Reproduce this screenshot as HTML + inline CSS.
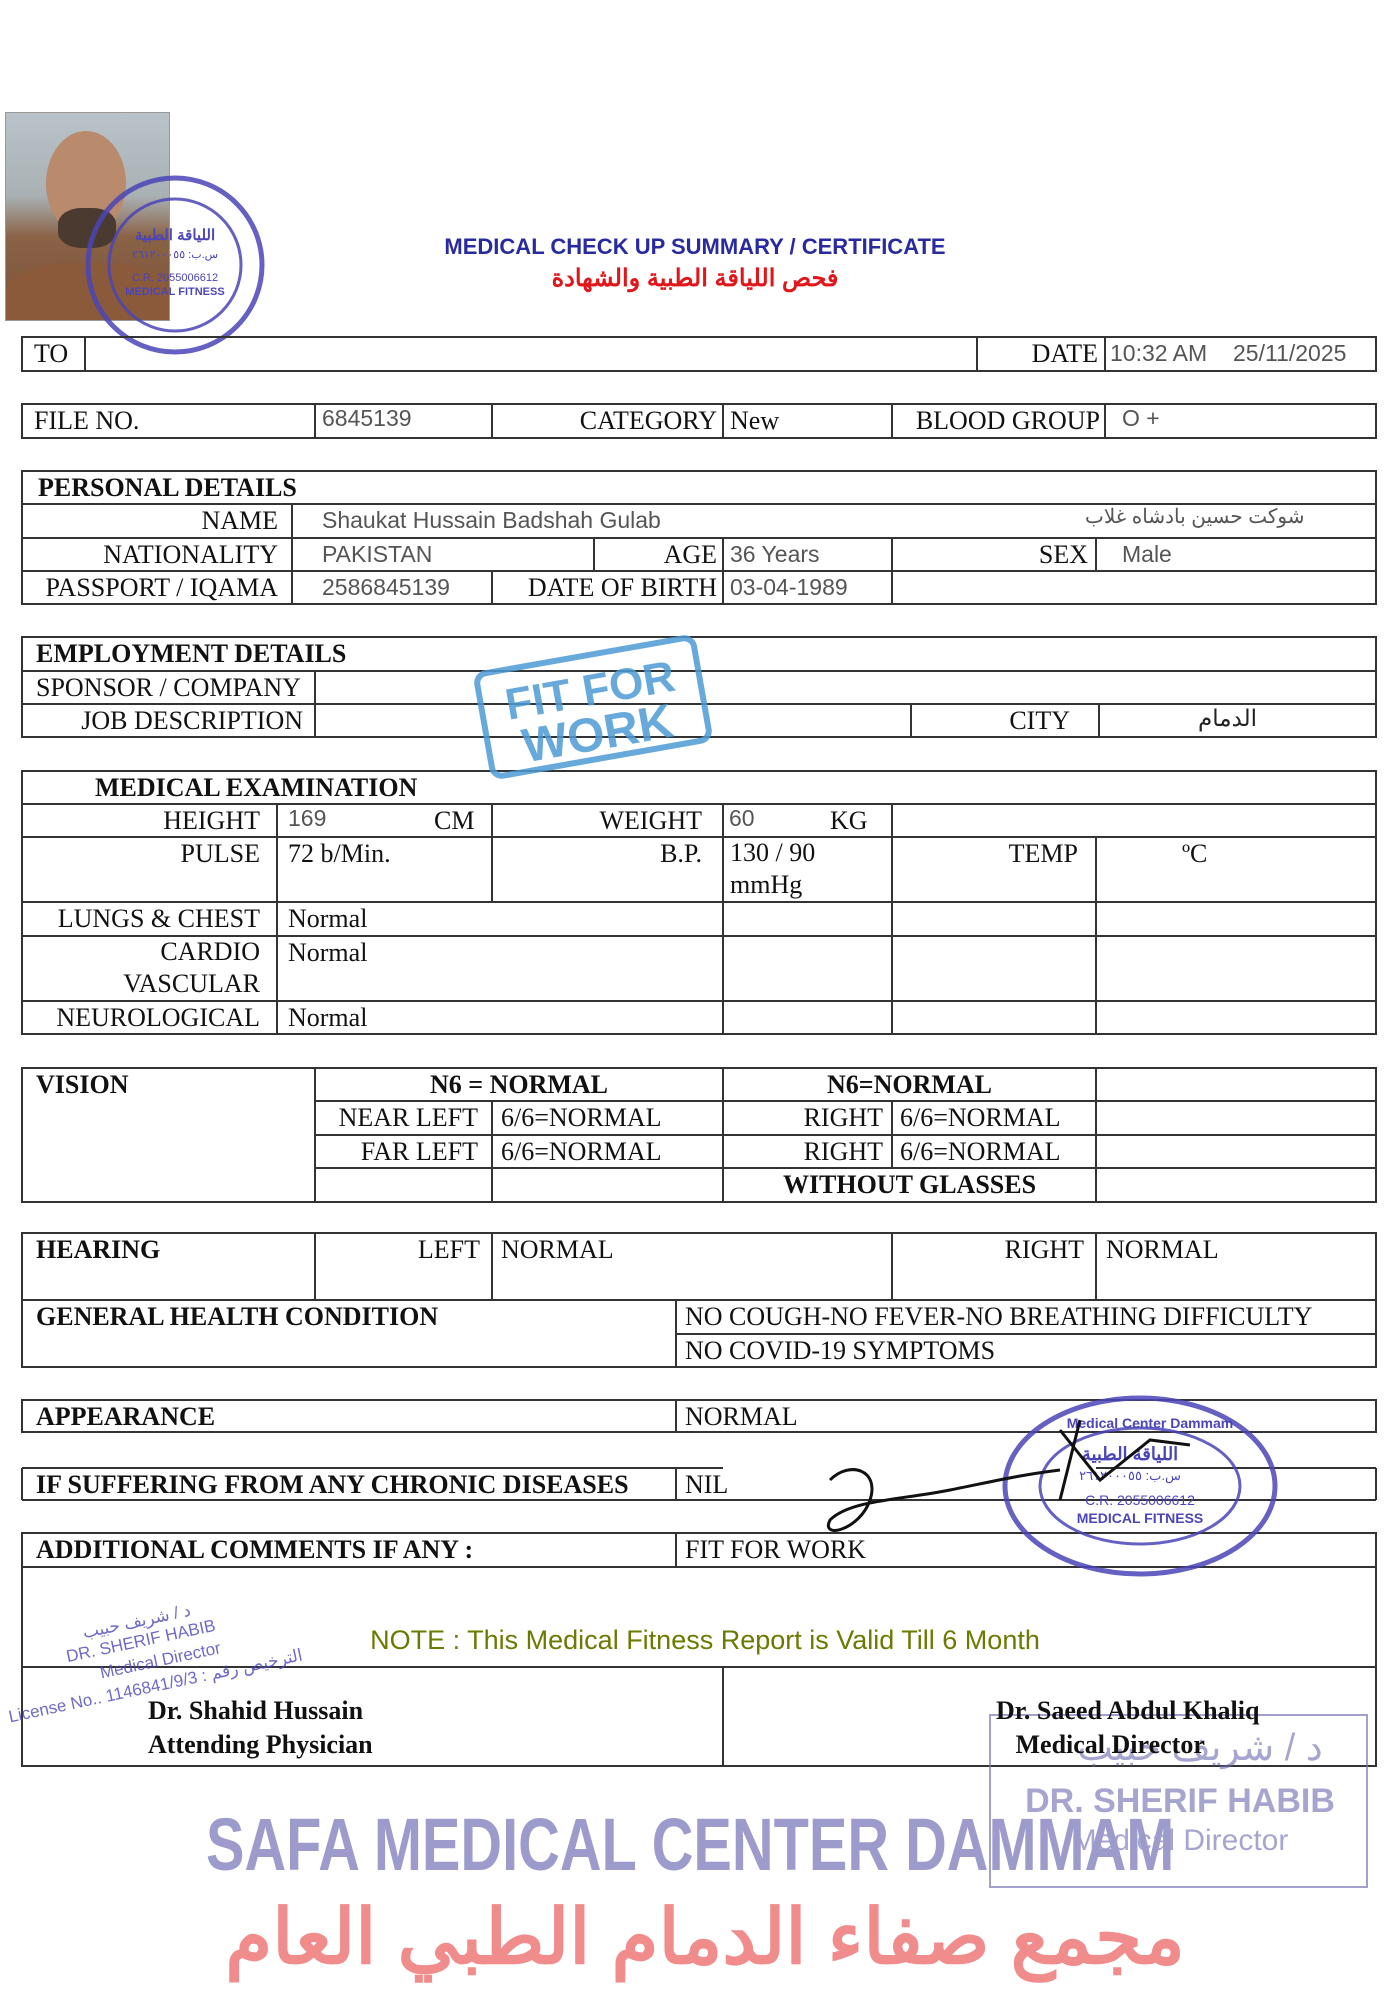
<!DOCTYPE html>
<html><head><meta charset="utf-8">
<style>
html,body{margin:0;padding:0;background:#fff;}
body{width:1400px;height:2008px;position:relative;overflow:hidden;font-family:"Liberation Serif",serif;}
.t{position:absolute;font-size:26px;line-height:33px;white-space:nowrap;color:#111;}
.r{text-align:right;}
.s{font-family:"Liberation Sans",sans-serif;font-size:23px;color:#555;}
.b{font-weight:bold;}
svg{position:absolute;left:0;top:0;}
</style></head><body>

<div style="position:absolute;left:5px;top:112px;width:163px;height:207px;background:linear-gradient(180deg,#b9c3c9 0%,#a9b1b4 40%,#8a6246 60%,#7b5238 100%);overflow:hidden;border:1px solid #999;">
  <div style="position:absolute;left:40px;top:18px;width:80px;height:105px;border-radius:50%;background:#b98b6c;"></div>
  <div style="position:absolute;left:52px;top:95px;width:58px;height:40px;border-radius:40%;background:#4a3a30;"></div>
  <div style="position:absolute;left:0;top:150px;width:163px;height:70px;border-radius:40% 40% 0 0;background:#8a5a3a;"></div>
</div>

<svg width="1400" height="2008" viewBox="0 0 1400 2008">
 <g fill="none" stroke="#4b45b8" opacity="0.85">
  <circle cx="175" cy="265" r="87" stroke-width="5"/>
  <circle cx="175" cy="265" r="66" stroke-width="3"/>
 </g>
 <text x="175" y="240" font-family="Liberation Sans" font-size="15" font-weight="bold" fill="#4b45b8" text-anchor="middle">اللياقة الطبية</text>
 <text x="175" y="258" font-family="Liberation Sans" font-size="11" fill="#4b45b8" text-anchor="middle">س.ب: ٢٦١٢٠٠٠٥٥</text>
 <text x="175" y="281" font-family="Liberation Sans" font-size="11" fill="#4b45b8" text-anchor="middle">C.R. 2055006612</text>
 <text x="175" y="295" font-family="Liberation Sans" font-size="11" font-weight="bold" fill="#4b45b8" text-anchor="middle">MEDICAL FITNESS</text>

 <g stroke="#333" stroke-width="2" fill="none">
  <rect x="22" y="337" width="1354" height="34"/>
  <line x1="85" y1="337" x2="85" y2="371"/><line x1="977" y1="337" x2="977" y2="371"/><line x1="1105" y1="337" x2="1105" y2="371"/>
  <rect x="22" y="404" width="1354" height="34"/>
  <line x1="315" y1="404" x2="315" y2="438"/><line x1="492" y1="404" x2="492" y2="438"/><line x1="723" y1="404" x2="723" y2="438"/><line x1="892" y1="404" x2="892" y2="438"/><line x1="1105" y1="404" x2="1105" y2="438"/>
  <rect x="22" y="471" width="1354" height="133"/>
  <line x1="22" y1="504" x2="1376" y2="504"/><line x1="22" y1="538" x2="1376" y2="538"/><line x1="22" y1="571" x2="1376" y2="571"/>
  <line x1="292" y1="504" x2="292" y2="604"/>
  <line x1="594" y1="538" x2="594" y2="571"/><line x1="723" y1="538" x2="723" y2="604"/><line x1="892" y1="538" x2="892" y2="604"/><line x1="1096" y1="538" x2="1096" y2="571"/>
  <line x1="492" y1="571" x2="492" y2="604"/>
  <rect x="22" y="637" width="1354" height="100"/>
  <line x1="22" y1="671" x2="1376" y2="671"/><line x1="22" y1="704" x2="1376" y2="704"/>
  <line x1="315" y1="671" x2="315" y2="737"/><line x1="911" y1="704" x2="911" y2="737"/><line x1="1099" y1="704" x2="1099" y2="737"/>
  <rect x="22" y="771" width="1354" height="263"/>
  <line x1="22" y1="804" x2="1376" y2="804"/><line x1="22" y1="837" x2="1376" y2="837"/><line x1="22" y1="902" x2="1376" y2="902"/><line x1="22" y1="936" x2="1376" y2="936"/><line x1="22" y1="1001" x2="1376" y2="1001"/>
  <line x1="277" y1="804" x2="277" y2="1034"/><line x1="492" y1="804" x2="492" y2="902"/><line x1="723" y1="804" x2="723" y2="1034"/><line x1="892" y1="804" x2="892" y2="1034"/><line x1="1096" y1="837" x2="1096" y2="1034"/>
  <rect x="22" y="1068" width="1354" height="134"/>
  <line x1="315" y1="1101" x2="1376" y2="1101"/><line x1="315" y1="1135" x2="1376" y2="1135"/><line x1="315" y1="1168" x2="1376" y2="1168"/>
  <line x1="315" y1="1068" x2="315" y2="1202"/><line x1="492" y1="1101" x2="492" y2="1202"/><line x1="723" y1="1068" x2="723" y2="1202"/><line x1="892" y1="1101" x2="892" y2="1168"/><line x1="1096" y1="1068" x2="1096" y2="1202"/>
  <rect x="22" y="1233" width="1354" height="134"/>
  <line x1="22" y1="1300" x2="1376" y2="1300"/><line x1="676" y1="1334" x2="1376" y2="1334"/>
  <line x1="315" y1="1233" x2="315" y2="1300"/><line x1="492" y1="1233" x2="492" y2="1300"/><line x1="892" y1="1233" x2="892" y2="1300"/><line x1="1096" y1="1233" x2="1096" y2="1300"/>
  <line x1="676" y1="1300" x2="676" y2="1367"/>
  <rect x="22" y="1400" width="1354" height="32"/>
  <line x1="676" y1="1400" x2="676" y2="1432"/>
  <line x1="22" y1="1468" x2="723" y2="1468"/><line x1="22" y1="1500" x2="1376" y2="1500"/>
  <line x1="22" y1="1468" x2="22" y2="1500"/><line x1="676" y1="1468" x2="676" y2="1500"/><line x1="1376" y1="1468" x2="1376" y2="1500"/><line x1="1096" y1="1468" x2="1376" y2="1468"/>
  <rect x="22" y="1533" width="1354" height="233"/>
  <line x1="22" y1="1567" x2="1376" y2="1567"/><line x1="22" y1="1667" x2="1376" y2="1667"/>
  <line x1="676" y1="1533" x2="676" y2="1567"/><line x1="723" y1="1667" x2="723" y2="1766"/>
 </g>

 <g transform="rotate(-10 593 707)" opacity="0.85">
  <rect x="483" y="655" width="220" height="104" rx="10" fill="none" stroke="#4e9bd6" stroke-width="6"/>
  <text x="593" y="705" font-family="Liberation Sans" font-weight="bold" font-size="44" fill="#4e9bd6" text-anchor="middle">FIT FOR</text>
  <text x="593" y="750" font-family="Liberation Sans" font-weight="bold" font-size="48" fill="#4e9bd6" text-anchor="middle">WORK</text>
 </g>

 <g fill="none" stroke="#4b45b8" opacity="0.85">
  <ellipse cx="1140" cy="1486" rx="135" ry="88" stroke-width="5"/>
  <ellipse cx="1140" cy="1486" rx="100" ry="58" stroke-width="3"/>
 </g>
 <text x="1150" y="1428" font-family="Liberation Sans" font-size="14" font-weight="bold" fill="#4b45b8" text-anchor="middle">Medical Center Dammam</text>
 <text x="1130" y="1460" font-family="Liberation Sans" font-size="18" font-weight="bold" fill="#4b45b8" text-anchor="middle">اللياقة الطبية</text>
 <text x="1130" y="1480" font-family="Liberation Sans" font-size="13" fill="#4b45b8" text-anchor="middle">س.ب: ٢٦١٢٠٠٠٥٥</text>
 <text x="1140" y="1505" font-family="Liberation Sans" font-size="14" fill="#4b45b8" text-anchor="middle">C.R. 2055006612</text>
 <text x="1140" y="1523" font-family="Liberation Sans" font-size="14" font-weight="bold" fill="#4b45b8" text-anchor="middle">MEDICAL FITNESS</text>
 <path d="M1080 1420 L1060 1500 M1060 1430 L1100 1480 L1150 1440 L1190 1445 M830 1480 C850 1460 880 1470 870 1500 C860 1530 820 1540 830 1520 C850 1500 900 1500 950 1490 C1000 1480 1020 1475 1060 1470" fill="none" stroke="#111" stroke-width="3"/>

 <rect x="990" y="1715" width="377" height="172" fill="none" stroke="#7a78b8" stroke-width="2" opacity="0.7"/>
 <text x="1200" y="1760" font-family="Liberation Sans" font-size="38" fill="#6c6ab0" opacity="0.6" text-anchor="middle">د / شريف حبيب</text>
 <text x="1180" y="1812" font-family="Liberation Sans" font-size="34" font-weight="bold" fill="#6c6ab0" opacity="0.6" text-anchor="middle">DR. SHERIF HABIB</text>
 <text x="1180" y="1850" font-family="Liberation Sans" font-size="30" fill="#6c6ab0" opacity="0.6" text-anchor="middle">Medical Director</text>

 <g transform="rotate(-12 150 1660)" fill="#4b45b8" opacity="0.8" font-family="Liberation Sans" font-size="17">
  <text x="145" y="1625" text-anchor="middle">د / شريف حبيب</text>
  <text x="145" y="1645" text-anchor="middle">DR. SHERIF HABIB</text>
  <text x="160" y="1668" text-anchor="middle">Medical Director</text>
  <text x="150" y="1692" text-anchor="middle">License No.. 1146841/9/3 : الترخيص رقم</text>
 </g>
</svg>

<div class="t b" style="left:0;width:1390px;text-align:center;top:230px;font-family:'Liberation Sans',sans-serif;font-size:22px;color:#2a2aa0;">MEDICAL CHECK UP SUMMARY / CERTIFICATE</div>
<div class="t b" style="left:0;width:1390px;text-align:center;top:262px;font-family:'Liberation Sans','Noto Sans CJK SC',sans-serif;font-size:24px;color:#e0161a;">فحص اللياقة الطبية والشهادة</div>

<div class="t" style="left:34px;top:337px;">TO</div>
<div class="t r" style="right:302px;top:337px;">DATE</div>
<div class="t s" style="left:1110px;top:337px;">10:32 AM</div>
<div class="t s" style="left:1233px;top:337px;">25/11/2025</div>

<div class="t" style="left:34px;top:404px;">FILE NO.</div>
<div class="t s" style="left:322px;top:402px;">6845139</div>
<div class="t r" style="right:683px;top:404px;">CATEGORY</div>
<div class="t" style="left:730px;top:404px;">New</div>
<div class="t r" style="right:300px;top:404px;">BLOOD GROUP</div>
<div class="t s" style="left:1122px;top:402px;">O +</div>

<div class="t b" style="left:38px;top:471px;">PERSONAL DETAILS</div>
<div class="t r" style="right:1122px;top:504px;">NAME</div>
<div class="t s" style="left:322px;top:504px;">Shaukat Hussain Badshah Gulab</div>
<div class="t s" style="left:1085px;top:501px;font-size:20px;">شوكت حسين بادشاه غلاب</div>
<div class="t r" style="right:1122px;top:538px;">NATIONALITY</div>
<div class="t s" style="left:322px;top:538px;">PAKISTAN</div>
<div class="t r" style="right:683px;top:538px;">AGE</div>
<div class="t s" style="left:730px;top:538px;">36 Years</div>
<div class="t r" style="right:312px;top:538px;">SEX</div>
<div class="t s" style="left:1122px;top:538px;">Male</div>
<div class="t r" style="right:1122px;top:571px;">PASSPORT / IQAMA</div>
<div class="t s" style="left:322px;top:571px;">2586845139</div>
<div class="t r" style="right:683px;top:571px;">DATE OF BIRTH</div>
<div class="t s" style="left:730px;top:571px;">03-04-1989</div>

<div class="t b" style="left:36px;top:637px;">EMPLOYMENT DETAILS</div>
<div class="t" style="left:36px;top:671px;">SPONSOR / COMPANY</div>
<div class="t r" style="right:1097px;top:704px;">JOB DESCRIPTION</div>
<div class="t r" style="right:330px;top:704px;">CITY</div>
<div class="t s" style="left:1198px;top:702px;color:#222;">الدمام</div>

<div class="t b" style="left:95px;top:771px;">MEDICAL EXAMINATION</div>
<div class="t r" style="right:1140px;top:804px;">HEIGHT</div>
<div class="t s" style="left:288px;top:802px;">169</div>
<div class="t" style="left:434px;top:804px;">CM</div>
<div class="t r" style="right:698px;top:804px;">WEIGHT</div>
<div class="t s" style="left:729px;top:802px;">60</div>
<div class="t" style="left:830px;top:804px;">KG</div>
<div class="t r" style="right:1140px;top:837px;">PULSE</div>
<div class="t" style="left:288px;top:837px;">72 b/Min.</div>
<div class="t r" style="right:698px;top:837px;">B.P.</div>
<div class="t" style="left:730px;top:837px;line-height:32px;">130 / 90<br>mmHg</div>
<div class="t r" style="right:322px;top:837px;">TEMP</div>
<div class="t" style="left:1182px;top:837px;">ºC</div>
<div class="t r" style="right:1140px;top:902px;">LUNGS &amp; CHEST</div>
<div class="t" style="left:288px;top:902px;">Normal</div>
<div class="t r" style="right:1140px;top:936px;line-height:32px;">CARDIO<br>VASCULAR</div>
<div class="t" style="left:288px;top:936px;">Normal</div>
<div class="t r" style="right:1140px;top:1001px;">NEUROLOGICAL</div>
<div class="t" style="left:288px;top:1001px;">Normal</div>

<div class="t b" style="left:36px;top:1068px;">VISION</div>
<div class="t b" style="left:315px;width:408px;text-align:center;top:1068px;">N6 = NORMAL</div>
<div class="t b" style="left:723px;width:373px;text-align:center;top:1068px;">N6=NORMAL</div>
<div class="t r" style="right:922px;top:1101px;">NEAR LEFT</div>
<div class="t" style="left:501px;top:1101px;">6/6=NORMAL</div>
<div class="t r" style="right:517px;top:1101px;">RIGHT</div>
<div class="t" style="left:900px;top:1101px;">6/6=NORMAL</div>
<div class="t r" style="right:922px;top:1135px;">FAR LEFT</div>
<div class="t" style="left:501px;top:1135px;">6/6=NORMAL</div>
<div class="t r" style="right:517px;top:1135px;">RIGHT</div>
<div class="t" style="left:900px;top:1135px;">6/6=NORMAL</div>
<div class="t b" style="left:723px;width:373px;text-align:center;top:1168px;">WITHOUT GLASSES</div>

<div class="t b" style="left:36px;top:1233px;">HEARING</div>
<div class="t r" style="right:920px;top:1233px;">LEFT</div>
<div class="t" style="left:501px;top:1233px;">NORMAL</div>
<div class="t r" style="right:316px;top:1233px;">RIGHT</div>
<div class="t" style="left:1106px;top:1233px;">NORMAL</div>
<div class="t b" style="left:36px;top:1300px;">GENERAL HEALTH CONDITION</div>
<div class="t" style="left:685px;top:1300px;">NO COUGH-NO FEVER-NO BREATHING DIFFICULTY</div>
<div class="t" style="left:685px;top:1334px;">NO COVID-19 SYMPTOMS</div>

<div class="t b" style="left:36px;top:1400px;">APPEARANCE</div>
<div class="t" style="left:685px;top:1400px;">NORMAL</div>
<div class="t b" style="left:36px;top:1468px;">IF SUFFERING FROM ANY CHRONIC DISEASES</div>
<div class="t" style="left:685px;top:1468px;">NIL</div>
<div class="t b" style="left:36px;top:1533px;">ADDITIONAL COMMENTS IF ANY :</div>
<div class="t" style="left:685px;top:1533px;">FIT FOR WORK</div>

<div class="t" style="left:0;width:1410px;text-align:center;top:1624px;font-family:'Liberation Sans',sans-serif;font-size:27px;color:#6b7a00;">NOTE : This Medical Fitness Report is Valid Till 6 Month</div>

<div class="t b" style="left:148px;top:1694px;line-height:34px;">Dr. Shahid Hussain<br>Attending Physician</div>
<div class="t b" style="left:996px;top:1694px;line-height:34px;">Dr. Saeed Abdul Khaliq<br>&nbsp;&nbsp;&nbsp;Medical Director</div>

<div class="t b" style="left:206px;top:1800px;font-family:'Liberation Sans',sans-serif;font-size:74px;line-height:90px;color:#9d9bcb;transform:scaleX(0.78);transform-origin:left;">SAFA MEDICAL CENTER DAMMAM</div>
<div class="t b" style="left:0;width:1410px;text-align:center;top:1885px;font-family:'Liberation Sans','Noto Sans CJK SC',sans-serif;font-size:76px;line-height:105px;color:#f08c8c;">مجمع صفاء الدمام الطبي العام</div>

</body></html>
